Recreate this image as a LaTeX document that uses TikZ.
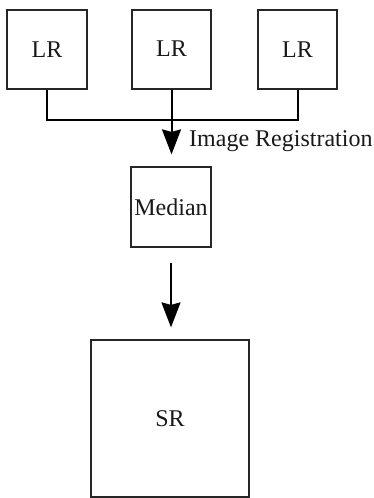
\documentclass[tikz,border=0pt]{standalone}
\usepackage{fontspec}
\setmainfont{Liberation Serif}
\usetikzlibrary{arrows.meta}
\begin{document}
\begin{tikzpicture}[x=1pt,y=-1pt,
  box/.style={draw=black!85,line width=1.2pt,inner sep=0pt,font=\fontsize{24}{28}\selectfont,text=black!90},
  conn/.style={line width=2pt,draw=black},
  bigarrow/.style={conn,-{Stealth[length=25pt,width=19pt,inset=2.5pt]}},
  lbl/.style={inner sep=0pt,font=\fontsize{24}{28}\selectfont,text=black!90}]
\useasboundingbox (0,0) rectangle (374,498);
\node[box,minimum width=80pt,minimum height=79pt] (lr1) at (47,49.5) {LR};
\node[box,minimum width=79pt,minimum height=79pt] (lr2) at (171.5,49.5) {\raisebox{2pt}{LR}};
\node[box,minimum width=79pt,minimum height=79pt] (lr3) at (297.5,49.5) {LR};
\coordinate (j) at (171.5,120);
\node[box,minimum width=80pt,minimum height=80pt] (med) at (171,207) {Median};
\node[box,minimum width=158pt,minimum height=157pt] (sr) at (170,418.5) {SR};
\draw[conn] (lr1.south) -- (lr1.south |- j) -- (lr3.south |- j) -- (lr3.south);
\draw[bigarrow,shorten >=12pt] (lr2.south) -- (lr2.south |- med.north);
\node[lbl,anchor=base west] (reg) at (189,146.5) {Image Registration};
\draw[bigarrow,shorten <=15pt,shorten >=12pt] (med.south) -- (med.south |- sr.north);
\end{tikzpicture}
\end{document}
